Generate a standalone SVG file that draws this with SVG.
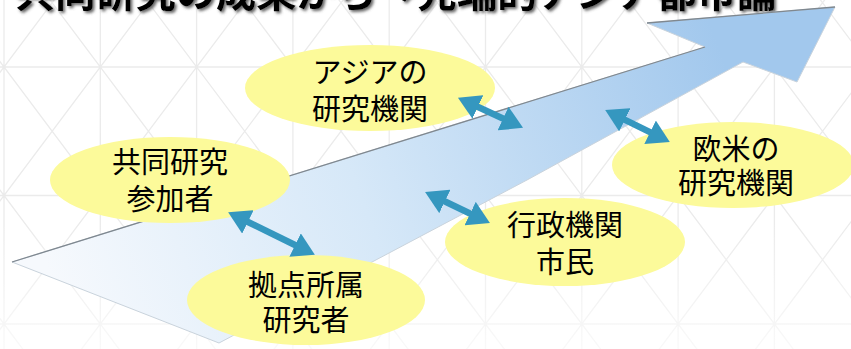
<svg xmlns="http://www.w3.org/2000/svg" width="851" height="349" viewBox="0 0 851 349">
<style>
.grid{fill:none;stroke:#ebebeb;stroke-width:1.3}
.node ellipse{fill:#fcfa9a}
.node text{font-family:"Noto Sans CJK JP","Noto Sans CJK SC",sans-serif;font-size:29px;fill:#000;text-anchor:middle}
.title{font-family:"Noto Sans CJK JP","Noto Sans CJK SC",sans-serif;font-size:40px;font-weight:bold}
.link{fill:none;stroke:#3597bf;stroke-width:6.5;marker-start:url(#head);marker-end:url(#head)}
</style>
<defs>
<marker id="head" markerUnits="userSpaceOnUse" viewBox="0 -13 22 26" markerWidth="22" markerHeight="26" refX="1" refY="0" orient="auto-start-reverse">
<path d="M0,-13 L22,0 L0,13 Z" fill="#3597bf"/>
</marker>
<linearGradient id="flow" gradientUnits="userSpaceOnUse" x1="60" y1="300" x2="720" y2="50">
<stop offset="0" stop-color="#f6f9fd"/>
<stop offset="0.45" stop-color="#d6e8f8"/>
<stop offset="1" stop-color="#a2c8ed"/>
</linearGradient>
<linearGradient id="fade" x1="0" y1="0" x2="0" y2="1">
<stop offset="0" stop-color="#fff" stop-opacity="0"/>
<stop offset="1" stop-color="#fff" stop-opacity="0.7"/>
</linearGradient>
<filter id="shadow" x="-5%" y="-50%" width="110%" height="200%">
<feDropShadow dx="2" dy="2" stdDeviation="1.5" flood-color="#555" flood-opacity="0.9"/>
</filter>
</defs>
<rect width="851" height="349" fill="#fff"/>
<path class="grid" d="M4,0V349M100.3,0V349M196.6,0V349M292.9,0V349M389.2,0V349M485.5,0V349M581.8,0V349M678.1,0V349M774.4,0V349M0,67H851M0,195.5H851M0,324H851
M-381.2,-61.5L4,452.5M-284.9,-61.5L100.3,452.5M-188.6,-61.5L196.6,452.5M-92.3,-61.5L292.9,452.5M4,-61.5L389.2,452.5M100.3,-61.5L485.5,452.5M196.6,-61.5L581.8,452.5M292.9,-61.5L678.1,452.5M389.2,-61.5L774.4,452.5M485.5,-61.5L870.7,452.5M581.8,-61.5L967,452.5M678.1,-61.5L1063.3,452.5M774.4,-61.5L1159.6,452.5
M4,-61.5L-381.2,452.5M100.3,-61.5L-284.9,452.5M196.6,-61.5L-188.6,452.5M292.9,-61.5L-92.3,452.5M389.2,-61.5L4,452.5M485.5,-61.5L100.3,452.5M581.8,-61.5L196.6,452.5M678.1,-61.5L292.9,452.5M774.4,-61.5L389.2,452.5M870.7,-61.5L485.5,452.5M967,-61.5L581.8,452.5M1063.3,-61.5L678.1,452.5M1159.6,-61.5L774.4,452.5"/>
<rect x="0" y="220" width="851" height="129" fill="url(#fade)"/>
<g id="title">
<text class="title" x="15" y="7" textLength="762" lengthAdjust="spacingAndGlyphs" fill="#000" filter="url(#shadow)">共同研究の成果から→先端的アジア都市論</text>
</g>
<g id="flow-arrow">
<polygon points="12,262 705,47 647,23 835,7 797,82 743,62 527,180 219,343" fill="url(#flow)" stroke="#c9d3dc" stroke-width="1"/>
<polyline points="12,262 705,47" fill="none" stroke="#7f8890" stroke-width="1.3"/>
<polyline points="647,23 835,7" fill="none" stroke="#7f8890" stroke-width="1.3"/>
</g>
<g id="node-asia" class="node">
<ellipse cx="370" cy="88" rx="125" ry="43"/>
<text x="370" y="83">アジアの<tspan x="370" dy="37">研究機関</tspan></text>
</g>
<g id="node-joint" class="node">
<ellipse cx="170" cy="180" rx="120" ry="43"/>
<text x="170" y="173">共同研究<tspan x="170" dy="37">参加者</tspan></text>
</g>
<g id="node-west" class="node">
<ellipse cx="733" cy="165" rx="121" ry="43"/>
<text x="736" y="160">欧米の<tspan x="736" dy="34">研究機関</tspan></text>
</g>
<g id="node-gov" class="node">
<ellipse cx="565" cy="242" rx="120" ry="44"/>
<text x="565" y="236">行政機関<tspan x="565" dy="37">市民</tspan></text>
</g>
<g id="node-base" class="node">
<ellipse cx="306" cy="300" rx="119" ry="45"/>
<text x="306" y="296">拠点所属<tspan x="306" dy="35">研究者</tspan></text>
</g>
<g id="connectors">
<path class="link" d="M247,221.5 L296,245.5"/>
<path class="link" d="M477,106.5 L504,119"/>
<path class="link" d="M624,119.3 L651,132.7"/>
<path class="link" d="M444,201 L471,214"/>
</g>
</svg>
